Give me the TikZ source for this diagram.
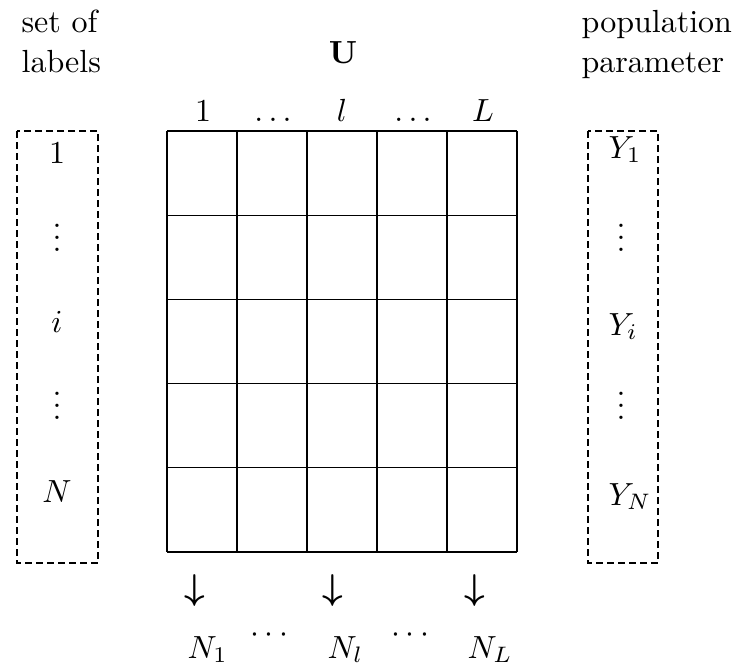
\documentclass[tikz,border=0pt]{standalone}
\usepackage{amsmath, amssymb}
\usepackage{tikz}
\usetikzlibrary{positioning}

\newcommand{\bigvdots}{\vbox{\baselineskip=3.75pt\lineskiplimit=0pt\hbox{.}\hbox{.}\hbox{.}}}

\begin{document}
\begin{tikzpicture}[x=1pt, y=-1pt,
      txt/.style = {inner sep=0pt, scale=3.2, font=\fontsize{10}{12.5}\selectfont},
      headtext/.style = {txt, align=left, anchor=base west},
      labelbox/.style = {line width=2.7pt, dash pattern=on 7pt off 4pt},
      celllines/.style = {line width=1.3pt},
      entry/.style = {txt, anchor=base},
      sideentry/.style = {txt, anchor=base west},
      arrowentry/.style = {entry, scale=1.12}
    ]
      \useasboundingbox (0,0) rectangle (734,670);

      % headings
      \node[headtext] (setlabels) at (21,72) {set of\\labels};
      \node[headtext] (popparam) at (581,72) {population\\parameter};
      \node[entry] (U) at (343,63) {$\mathbf{U}$};

      % dashed boxes
      \draw[labelbox] (17,131) rectangle (98,563);
      \draw[labelbox] (588,131) rectangle (658,563);

      % grid of cells
      \foreach \c in {0,...,5}
        \draw[celllines] (167+70*\c,131) -- (167+70*\c,552);
      \foreach \r in {0,...,5}
        \draw[celllines] (167,131+84.2*\r) -- (517,131+84.2*\r);

      % column labels
      \node[entry] (col1) at (203,121) {1};
      \node[entry] (coldotsa) at (273,121) {$\ldots$};
      \node[entry] (coll) at (342,121) {$l$};
      \node[entry] (coldotsb) at (413,121) {$\ldots$};
      \node[entry] (colL) at (483,121) {$L$};

      % labels
      \node[entry] (lab1) at (57,163) {1};
      \node[txt] (labdotsa) at (57,238) {\bigvdots};
      \node[entry] (labi) at (57,332) {$i$};
      \node[txt] (labdotsb) at (57,406) {\bigvdots};
      \node[entry] (labN) at (57,502) {$N$};

      % parameters
      \node[sideentry] (Y1) at (608,158) {$Y_1$};
      \node[txt] (Ydotsa) at (621,238) {\bigvdots};
      \node[sideentry] (Yi) at (608,335) {$Y_i$};
      \node[txt] (Ydotsb) at (621,406) {\bigvdots};
      \node[sideentry] (YN) at (608,505) {$Y_N$};

      % column totals
      \node[arrowentry] (arr1) at (195,599) {$\boldsymbol{\downarrow}$};
      \node[arrowentry] (arrl) at (333,599) {$\boldsymbol{\downarrow}$};
      \node[arrowentry] (arrL) at (475,599) {$\boldsymbol{\downarrow}$};
      \node[sideentry] (N1) at (187,658) {$N_1$};
      \node[txt] (totdotsa) at (272,635) {$\cdots$};
      \node[sideentry] (Nl) at (327,658) {$N_l$};
      \node[txt] (totdotsb) at (413,635) {$\cdots$};
      \node[sideentry] (NL) at (467,658) {$N_L$};
    \end{tikzpicture}
\end{document}
